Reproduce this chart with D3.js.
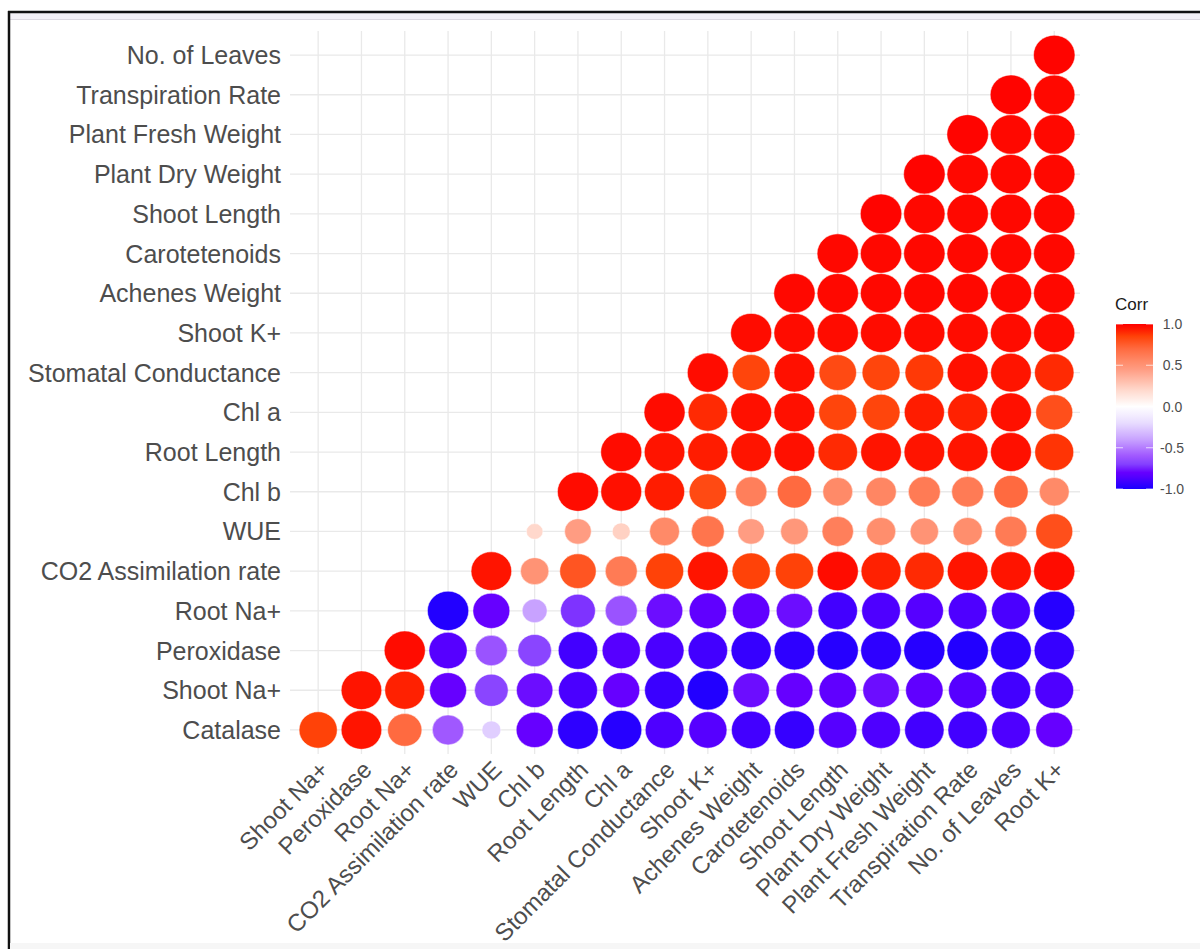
<!DOCTYPE html>
<html>
<head>
<meta charset="utf-8">
<script src="https://cdn.jsdelivr.net/npm/d3@7"></script>
<style>
  html, body { margin: 0; padding: 0; background: #ffffff; }
  svg { display: block; }
  text { font-family: "Liberation Sans", Arial, Helvetica, sans-serif; }
</style>
</head>
<body>
<svg id="chart" width="1200" height="949"></svg>
<script>
// Variables along the x axis (left to right)
const xLabels = ["Shoot Na+", "Peroxidase", "Root Na+", "CO2 Assimilation rate", "WUE", "Chl b",
  "Root Length", "Chl a", "Stomatal Conductance", "Shoot K+", "Achenes Weight", "Carotetenoids",
  "Shoot Length", "Plant Dry Weight", "Plant Fresh Weight", "Transpiration Rate", "No. of Leaves", "Root K+"];

// Variables along the y axis (bottom to top)
const yLabels = ["Catalase", "Shoot Na+", "Peroxidase", "Root Na+", "CO2 Assimilation rate", "WUE",
  "Chl b", "Root Length", "Chl a", "Stomatal Conductance", "Shoot K+", "Achenes Weight",
  "Carotetenoids", "Shoot Length", "Plant Dry Weight", "Plant Fresh Weight", "Transpiration Rate", "No. of Leaves"];

// Lower-triangle correlations: row i (y variable) holds values for x columns i..17
const rowCatalase     = [0.85, 0.95, 0.70, -0.60, -0.25, -0.80, -0.95, -0.97, -0.87, -0.85, -0.90, -0.93, -0.85, -0.87, -0.90, -0.90, -0.87, -0.80];
const rowShootNa      = [0.95, 0.92, -0.80, -0.68, -0.78, -0.88, -0.80, -0.92, -0.98, -0.78, -0.80, -0.82, -0.78, -0.82, -0.85, -0.90, -0.87];
const rowPeroxidase   = [0.97, -0.85, -0.62, -0.68, -0.90, -0.85, -0.88, -0.90, -0.93, -0.95, -0.97, -0.95, -0.97, -0.98, -0.95, -0.93];
const rowRootNa       = [-0.98, -0.80, -0.40, -0.72, -0.62, -0.78, -0.82, -0.82, -0.78, -0.90, -0.87, -0.85, -0.87, -0.88, -0.97];
const rowCO2          = [0.95, 0.50, 0.78, 0.62, 0.85, 0.95, 0.85, 0.85, 0.97, 0.92, 0.90, 0.95, 0.95, 0.97];
const rowWUE          = [0.20, 0.45, 0.23, 0.55, 0.65, 0.45, 0.48, 0.60, 0.53, 0.50, 0.53, 0.62, 0.80];
const rowChlb         = [0.97, 0.96, 0.93, 0.82, 0.60, 0.70, 0.55, 0.57, 0.62, 0.62, 0.70, 0.55];
const rowRootLength   = [0.97, 0.95, 0.93, 0.95, 0.96, 0.90, 0.95, 0.95, 0.95, 0.96, 0.88];
const rowChla         = [0.97, 0.90, 0.96, 0.96, 0.84, 0.84, 0.93, 0.92, 0.96, 0.80];
const rowStomatal     = [0.97, 0.84, 0.96, 0.82, 0.84, 0.87, 0.96, 0.95, 0.90];
const rowShootK       = [0.97, 0.97, 0.97, 0.97, 0.97, 0.97, 0.97, 0.97];
const rowAchenes      = [0.98, 0.98, 0.98, 0.98, 0.98, 0.98, 0.98];
const rowCarotenoids  = [0.98, 0.98, 0.98, 0.98, 0.98, 0.98];
const rowShootLength  = [0.99, 0.98, 0.98, 0.98, 0.98];
const rowPlantDry     = [0.99, 0.98, 0.98, 0.98];
const rowPlantFresh   = [0.99, 0.98, 0.98];
const rowTranspiration = [0.99, 0.98];
const rowLeaves       = [0.99];

const corrRows = [rowCatalase, rowShootNa, rowPeroxidase, rowRootNa, rowCO2, rowWUE, rowChlb,
  rowRootLength, rowChla, rowStomatal, rowShootK, rowAchenes, rowCarotenoids, rowShootLength,
  rowPlantDry, rowPlantFresh, rowTranspiration, rowLeaves];

// Legend ticks
const legendTicks = [1.0, 0.5, 0.0, -0.5, -1.0];

// Diverging palette stops (blue - white - red)
const paletteStops  = [-1, -0.95, -0.9, -0.85, -0.8, -0.7, -0.6, -0.4, -0.2, 0, 0.2, 0.45, 0.55, 0.7, 0.85, 0.93, 1];
const paletteColors = ["#1a00ff", "#2e00ff", "#4200ff", "#5600ff", "#6600ff", "#8440ff", "#a058ff",
  "#c8a2ff", "#e8dcff", "#ffffff", "#ffd8cc", "#ff9c82", "#ff8a68", "#ff6a40", "#ff4208", "#ff1c00", "#ff0000"];

// Flatten into cells
const cells = [];
corrRows.forEach((vals, i) => {
  vals.forEach((v, j) => {
    cells.push({ x: xLabels[i + j], y: yLabels[i], r: v });
  });
});

const svg = d3.select("#chart");

// Frame: top bar and left edge
svg.append("rect").attr("x", 0).attr("y", 0).attr("width", 1200).attr("height", 949).attr("fill", "#ffffff");
svg.append("rect").attr("x", 9).attr("y", 13).attr("width", 1191).attr("height", 7).attr("fill", "#f3f0f6");
svg.append("line").attr("x1", 9).attr("x2", 1200).attr("y1", 19.5).attr("y2", 19.5).attr("stroke", "#dcd8e0").attr("stroke-width", 1);
svg.append("line").attr("x1", 8).attr("x2", 1200).attr("y1", 12).attr("y2", 12).attr("stroke", "#111").attr("stroke-width", 2.5);
svg.append("line").attr("x1", 9).attr("x2", 9).attr("y1", 11).attr("y2", 949).attr("stroke", "#111").attr("stroke-width", 2.5);
svg.append("rect").attr("x", 10).attr("y", 943).attr("width", 1190).attr("height", 6).attr("fill", "#f6f6f6");

// Scales
const x = d3.scaleBand().domain(xLabels).range([296.5, 1075.9]);
const y = d3.scaleBand().domain(yLabels.slice().reverse()).range([35.2, 749.8]);
const cx = d => x(d) + x.bandwidth() / 2;
const cy = d => y(d) + y.bandwidth() / 2;

const color = d3.scaleLinear().domain(paletteStops).range(paletteColors).interpolate(d3.interpolateRgb);

const absVals = cells.map(c => Math.abs(c.r));
const size = d3.scaleSqrt().domain([d3.min(absVals), d3.max(absVals)]).range([0, 1]);
const diam = v => 16.5 + (41.5 - 16.5) * size(Math.abs(v));
const aspect = y.bandwidth() / x.bandwidth();

// Grid
const grid = svg.append("g").attr("stroke", "#e9e9e9").attr("stroke-width", 1.3);
xLabels.forEach(l => {
  grid.append("line").attr("x1", cx(l)).attr("x2", cx(l)).attr("y1", 31).attr("y2", 754);
});
yLabels.forEach(l => {
  grid.append("line").attr("x1", 290).attr("x2", 1080).attr("y1", cy(l)).attr("y2", cy(l));
});

// Circles
svg.append("g").selectAll("ellipse").data(cells).join("ellipse")
  .attr("cx", d => cx(d.x))
  .attr("cy", d => cy(d.y))
  .attr("rx", d => diam(d.r) / 2)
  .attr("ry", d => diam(d.r) / 2 * aspect * 1.04)
  .attr("fill", d => color(d.r))
  .attr("stroke", "#ffffff")
  .attr("stroke-opacity", 0.6)
  .attr("stroke-width", 0.8);

// Y axis labels
svg.append("g").selectAll("text").data(yLabels).join("text")
  .attr("x", 281)
  .attr("y", d => cy(d))
  .attr("dy", "0.36em")
  .attr("text-anchor", "end")
  .attr("font-size", 25)
  .attr("fill", "#4d4d4d")
  .text(d => d);

// X axis labels, rotated 45 degrees
svg.append("g").selectAll("text").data(xLabels).join("text")
  .attr("transform", d => `translate(${cx(d) - 0.5},${759}) rotate(-45)`)
  .attr("dy", "0.72em")
  .attr("text-anchor", "end")
  .attr("font-size", 24)
  .attr("fill", "#4d4d4d")
  .text(d => d);

// Colour bar legend
const legY = d3.scaleLinear().domain([-1, 1]).range([489, 324]);
const defs = svg.append("defs");
const grad = defs.append("linearGradient").attr("id", "corrGrad")
  .attr("x1", 0).attr("y1", 1).attr("x2", 0).attr("y2", 0);
d3.range(-1, 1.0001, 0.05).forEach(v => {
  grad.append("stop").attr("offset", (v + 1) / 2).attr("stop-color", color(v));
});
svg.append("rect").attr("x", 1116).attr("y", legY(1)).attr("width", 37)
  .attr("height", legY(-1) - legY(1)).attr("fill", "url(#corrGrad)");
legendTicks.forEach(t => {
  svg.append("line").attr("x1", 1116).attr("x2", 1123).attr("y1", legY(t)).attr("y2", legY(t))
    .attr("stroke", "#ffffff").attr("stroke-opacity", 0.7);
  svg.append("line").attr("x1", 1146).attr("x2", 1153).attr("y1", legY(t)).attr("y2", legY(t))
    .attr("stroke", "#ffffff").attr("stroke-opacity", 0.7);
});
svg.append("g").selectAll("text").data(legendTicks).join("text")
  .attr("x", 1160)
  .attr("y", d => legY(d))
  .attr("dy", "0.36em")
  .attr("font-size", 14)
  .attr("fill", "#4d4d4d")
  .text(d => (d < 0 ? "-" : "\u2009") + Math.abs(d).toFixed(1));
svg.append("text").attr("x", 1115).attr("y", 310).attr("font-size", 17).attr("fill", "#1a1a1a").text("Corr");
</script>
</body>
</html>
